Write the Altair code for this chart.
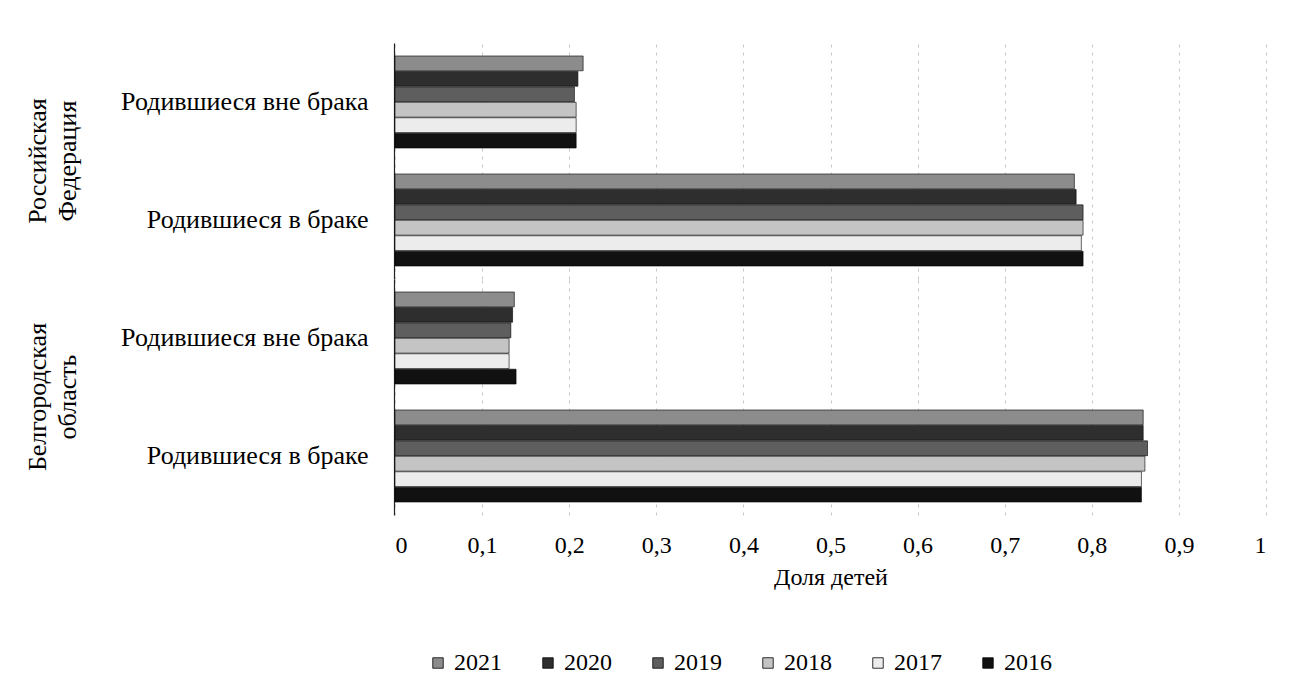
import altair as alt
import pandas as pd

regions = ["Российская Федерация", "Белгородская область"]
categories = ["Родившиеся вне брака", "Родившиеся в браке"]
years = ["2021", "2020", "2019", "2018", "2017", "2016"]

rf_out = [0.216, 0.210, 0.206, 0.208, 0.208, 0.208]
rf_in = [0.780, 0.782, 0.790, 0.790, 0.788, 0.790]
bo_out = [0.137, 0.135, 0.133, 0.131, 0.131, 0.139]
bo_in = [0.859, 0.859, 0.864, 0.861, 0.857, 0.857]

colors = ["#8c8c8c", "#2e2e2e", "#5e5e5e", "#c4c4c4", "#ececec", "#111111"]
tick_values = [0, 0.1, 0.2, 0.3, 0.4, 0.5, 0.6, 0.7, 0.8, 0.9, 1]

rows = []
for region, series in zip(regions, [(rf_out, rf_in), (bo_out, bo_in)]):
    for cat, vals in zip(categories, series):
        for y, v in zip(years, vals):
            rows.append({"region": region, "category": cat, "year": y, "value": v})
df = pd.DataFrame(rows)

FONT = "Liberation Serif"

bars = alt.Chart(df).mark_bar(stroke="#000000", strokeWidth=0.6).encode(
    x=alt.X(
        "value:Q",
        scale=alt.Scale(domain=[0, 1], nice=False),
        axis=alt.Axis(
            values=tick_values,
            labelExpr="replace(format(datum.value, '.1~f'), '.', ',')",
            grid=True, gridDash=[3, 5], gridColor="#c8c8c8", gridWidth=1,
            domain=False, ticks=False,
            labelFont=FONT, labelFontSize=24, labelColor="#000", labelPadding=18,
            title="Доля детей", titleFont=FONT, titleFontSize=24,
            titleFontWeight="normal", titleColor="#000", titlePadding=8,
        ),
    ),
    y=alt.Y(
        "category:N",
        sort=categories,
        scale=alt.Scale(paddingInner=0.22, paddingOuter=0.11),
        axis=alt.Axis(
            title=None, ticks=False, grid=False, domain=True, domainColor="#222",
            domainWidth=1.2,
            labelFont=FONT, labelFontSize=26, labelColor="#000", labelPadding=26,
            labelLimit=400, minExtent=280,
        ),
    ),
    yOffset=alt.YOffset("year:N", sort=years, scale=alt.Scale(paddingInner=0.04)),
    color=alt.Color(
        "year:N",
        sort=years,
        scale=alt.Scale(domain=years, range=colors),
        legend=alt.Legend(
            title=None, orient="none", direction="horizontal",
            legendX=31, legendY=608,
            symbolType="square", symbolSize=110, symbolStrokeColor="#000",
            symbolStrokeWidth=0.8,
            labelFont=FONT, labelFontSize=24, labelColor="#000",
            columnPadding=34,
        ),
    ),
).properties(width=871, height=236)

chart = bars.facet(
    row=alt.Row(
        "region:N",
        sort=regions,
        header=alt.Header(
            title=None, labelAngle=-90, labelOrient="left",
            labelFont=FONT, labelFontSize=26, labelColor="#000",
            labelExpr="split(datum.value, ' ')", labelLineHeight=30,
            labelPadding=20,
        ),
    ),
    spacing=0,
).properties(
    padding={"left": 17, "top": 35, "right": 5, "bottom": 5}
).configure_view(stroke="transparent", strokeWidth=0).configure(
    background="#ffffff",
    style={"cell": {"stroke": "transparent", "strokeWidth": 0}},
)

chart.save("out.html", embed_options={"renderer": "svg", "actions": False})
